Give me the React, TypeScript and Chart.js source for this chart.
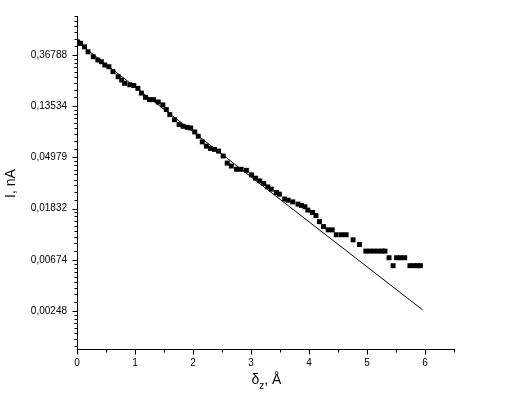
import React, { useEffect, useRef } from 'react';
import { Chart, registerables } from 'chart.js';

Chart.register(...registerables);

// Measured points (x in Å, current in nA)
const pointX = [
  0.01, 0.06, 0.13, 0.19, 0.28, 0.36, 0.42, 0.48, 0.55, 0.62,
  0.71, 0.77, 0.82, 0.91, 0.98, 1.05, 1.11, 1.18, 1.25, 1.32,
  1.40, 1.48, 1.54, 1.60, 1.68, 1.76, 1.83, 1.90, 1.96, 2.03,
  2.09, 2.16, 2.23, 2.30, 2.37, 2.44, 2.52, 2.59, 2.66, 2.75,
  2.83, 2.92, 3.01, 3.08, 3.15, 3.22, 3.29, 3.35, 3.44, 3.49,
  3.58, 3.64, 3.72, 3.81, 3.87, 3.93, 3.98, 4.06, 4.12, 4.18,
  4.25, 4.33, 4.40, 4.47, 4.56, 4.64, 4.76, 4.87, 4.98, 5.05,
  5.12, 5.19, 5.26, 5.31, 5.38, 5.45, 5.51, 5.58, 5.65, 5.74,
  5.81, 5.87, 5.92,
];
const pointY = [
  0.476, 0.463, 0.432, 0.392, 0.356, 0.334, 0.323, 0.303, 0.293, 0.266,
  0.241, 0.226, 0.212, 0.206, 0.203, 0.192, 0.175, 0.161, 0.154, 0.154,
  0.147, 0.139, 0.127, 0.115, 0.104, 0.0946, 0.0915, 0.0897, 0.0886, 0.0819,
  0.0754, 0.0675, 0.0621, 0.0594, 0.0583, 0.0564, 0.0512, 0.0446, 0.0421, 0.0395,
  0.0395, 0.0387, 0.0354, 0.0332, 0.0315, 0.0299, 0.028, 0.0268, 0.0251, 0.0243,
  0.0221, 0.0216, 0.0209, 0.02, 0.0195, 0.019, 0.0178, 0.017, 0.016, 0.0142,
  0.0129, 0.0121, 0.0121, 0.011, 0.011, 0.011, 0.00996, 0.00909, 0.00799, 0.00799,
  0.00799, 0.00799, 0.00799, 0.00799, 0.00702, 0.00601, 0.00702, 0.00702, 0.00702, 0.00601,
  0.00601, 0.00601, 0.00601,
];

// Fitted exponential line
const fitX = [0, 5.96];
const fitY = [0.476, 0.00253];

// Axes
const xMin = 0;
const xMax = 6.5;
const xTickValues = [0, 1, 2, 3, 4, 5, 6];
const xTickLabels = ['0', '1', '2', '3', '4', '5', '6'];
const xMinorValues = [0.5, 1.5, 2.5, 3.5, 4.5, 5.5, 6.5];
const yMin = 0.00118;
const yMax = 0.7893;
const yTickValues = [0.36788, 0.13534, 0.04979, 0.01832, 0.00674, 0.00248];
const yTickLabels = ['0,36788', '0,13534', '0,04979', '0,01832', '0,00674', '0,00248'];
const yBounds = [1, 0.36788, 0.13534, 0.04979, 0.01832, 0.00674, 0.00248, 0.000912];
const yMinorDivisions = 9;

const yTitle = 'I, nA';
const xTitleMain = 'δ';
const xTitleSub = 'z';
const xTitleRest = ', Å';

const FONT = '"Liberation Sans", Arial, sans-serif';

const axisDecor = {
  id: 'axisDecor',
  afterDraw(chart: any) {
    const ctx = chart.ctx as CanvasRenderingContext2D;
    const xs = chart.scales.x;
    const ys = chart.scales.y;
    const { left, right, top, bottom } = chart.chartArea;
    const ax = Math.round(left) + 0.5;
    const ay = Math.round(bottom) + 0.5;
    ctx.save();
    ctx.strokeStyle = '#000';
    ctx.lineWidth = 1;
    ctx.beginPath();
    for (const v of yTickValues) {
      const p = Math.round(ys.getPixelForValue(v)) + 0.5;
      ctx.moveTo(ax - 5, p);
      ctx.lineTo(ax, p);
    }
    for (let k = 0; k < yBounds.length - 1; k++) {
      const hi = yBounds[k];
      const lo = yBounds[k + 1];
      for (let j = 1; j < yMinorDivisions; j++) {
        const v = lo + (j * (hi - lo)) / yMinorDivisions;
        if (v < yMin || v > yMax * 1.001) continue;
        const p = Math.round(ys.getPixelForValue(v)) + 0.5;
        if (p < top - 1 || p > bottom + 1) continue;
        ctx.moveTo(ax - 3, p);
        ctx.lineTo(ax, p);
      }
    }
    for (const v of xTickValues) {
      const p = Math.round(xs.getPixelForValue(v)) + 0.5;
      ctx.moveTo(p, ay);
      ctx.lineTo(p, ay + 5);
    }
    for (const v of xMinorValues) {
      const p = Math.round(xs.getPixelForValue(v)) + 0.5;
      ctx.moveTo(p, ay);
      ctx.lineTo(p, ay + 3);
    }
    ctx.stroke();

    ctx.fillStyle = '#000';
    // y title
    ctx.save();
    ctx.translate(11, (top + bottom) / 2 + 1);
    ctx.rotate(-Math.PI / 2);
    ctx.font = `14px ${FONT}`;
    ctx.textAlign = 'center';
    ctx.textBaseline = 'middle';
    ctx.fillText(yTitle, 0, 0);
    ctx.restore();

    // x title with subscript
    const mainFont = `14px ${FONT}`;
    const subFont = `10px ${FONT}`;
    ctx.textAlign = 'left';
    ctx.textBaseline = 'alphabetic';
    ctx.font = mainFont;
    const w1 = ctx.measureText(xTitleMain).width;
    const w3 = ctx.measureText(xTitleRest).width;
    ctx.font = subFont;
    const w2 = ctx.measureText(xTitleSub).width;
    const total = w1 + w2 + w3;
    const cx = (left + right) / 2 + 1;
    let x = cx - total / 2;
    const base = 384;
    ctx.font = mainFont;
    ctx.fillText(xTitleMain, x, base);
    x += w1;
    ctx.font = subFont;
    ctx.fillText(xTitleSub, x, base + 5);
    x += w2;
    ctx.font = mainFont;
    ctx.fillText(xTitleRest, x, base);
    ctx.restore();
  },
};

export default function App() {
  const canvasRef = useRef<HTMLCanvasElement | null>(null);

  useEffect(() => {
    const canvas = canvasRef.current;
    if (!canvas) return;
    Chart.defaults.font.family = FONT;
    const chart = new Chart(canvas, {
      type: 'scatter',
      data: {
        datasets: [
          {
            type: 'line',
            data: fitX.map((x, i) => ({ x, y: fitY[i] })),
            borderColor: '#000',
            borderWidth: 1,
            pointRadius: 0,
            fill: false,
            tension: 0,
          } as any,
          {
            type: 'scatter',
            data: pointX.map((x, i) => ({ x, y: pointY[i] })),
            pointStyle: 'rect',
            pointRadius: 3.5,
            pointBorderWidth: 0,
            borderWidth: 0,
            backgroundColor: '#000',
            borderColor: '#000',
          } as any,
        ],
      },
      options: {
        responsive: false,
        animation: false,
        devicePixelRatio: 1,
        events: [],
        layout: { padding: { top: 15, right: 52, left: 0, bottom: 0 } },
        plugins: {
          legend: { display: false },
          tooltip: { enabled: false },
          title: { display: false },
        },
        scales: {
          x: {
            type: 'linear',
            min: xMin,
            max: xMax,
            grid: { display: false, drawTicks: false },
            border: { display: true, color: '#000', width: 1 },
            ticks: {
              color: '#000',
              font: { size: 10, family: FONT },
              padding: 8,
              autoSkip: false,
              maxRotation: 0,
              callback: (_v: any, i: number) => xTickLabels[i],
            },
            afterBuildTicks: (s: any) => {
              s.ticks = xTickValues.map((v) => ({ value: v }));
            },
            afterFit: (s: any) => {
              s.height = 44;
            },
          },
          y: {
            type: 'logarithmic',
            min: yMin,
            max: yMax,
            grid: { display: false, drawTicks: false },
            border: { display: true, color: '#000', width: 1 },
            ticks: {
              color: '#000',
              font: { size: 10, family: FONT },
              padding: 10,
              autoSkip: false,
              callback: (_v: any, i: number) => yTickLabels[i],
            },
            afterBuildTicks: (s: any) => {
              s.ticks = yTickValues.map((v) => ({ value: v }));
            },
            afterFit: (s: any) => {
              s.width = 77;
            },
          },
        },
      } as any,
      plugins: [axisDecor],
    });
    return () => chart.destroy();
  }, []);

  return (
    <div style={{ position: 'absolute', left: 0, top: 0, width: 506, height: 393, background: '#fff' }}>
      <canvas ref={canvasRef} width={506} height={393} style={{ width: 506, height: 393 }} />
    </div>
  );
}
